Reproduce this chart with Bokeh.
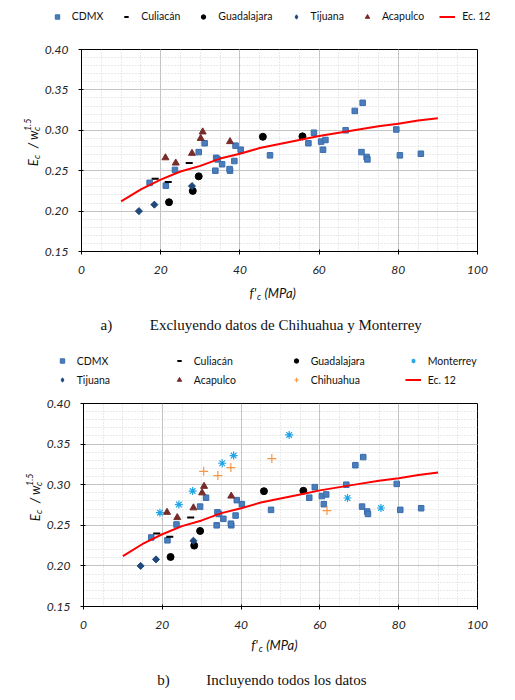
import math
from bokeh.plotting import figure
from bokeh.layouts import column, row
from bokeh.models import (Range1d, SingleIntervalTicker, Legend, LegendItem,
                          Label, PrintfTickFormatter)
from bokeh.embed import file_html
from bokeh.resources import INLINE

# ---------------- data ----------------
cdmx_x = [17.2, 21.3, 23.6, 29.6, 31.1, 33.8, 34.0, 34.4, 35.5, 37.5, 37.4, 38.6,
          38.9, 40.2, 47.6, 57.3, 58.7, 60.5, 61.0, 61.6, 66.7, 69.0, 70.7, 71.0,
          72.0, 72.2, 79.5, 80.4, 85.7]
cdmx_y = [0.235, 0.2315, 0.251, 0.273, 0.284, 0.250, 0.266, 0.264, 0.258, 0.250, 0.252, 0.262,
          0.281, 0.276, 0.269, 0.284, 0.297, 0.286, 0.276, 0.288, 0.300, 0.324, 0.273, 0.334,
          0.267, 0.264, 0.301, 0.269, 0.271]
culiacan_x = [18.6, 21.9, 27.2]
culiacan_y = [0.240, 0.236, 0.2595]
guadalajara_x = [22.1, 28.1, 29.6, 45.8, 55.8]
guadalajara_y = [0.211, 0.225, 0.243, 0.292, 0.2925]
tijuana_x = [14.5, 18.4, 27.9]
tijuana_y = [0.200, 0.208, 0.231]
acapulco_x = [21.2, 23.8, 27.9, 30.1, 30.6, 37.5]
acapulco_y = [0.266, 0.2595, 0.2715, 0.290, 0.298, 0.286]
monterrey_x = [19.4, 24.2, 27.7, 35.2, 38.1, 52.2, 67.0, 75.5]
monterrey_y = [0.2656, 0.2755, 0.2922, 0.3264, 0.3359, 0.3613, 0.2836, 0.2713]
chihuahua_x = [30.5, 34.1, 37.4, 47.8, 61.8]
chihuahua_y = [0.3165, 0.3112, 0.3211, 0.3322, 0.2681]
ec12_x = [10, 15, 20, 25, 30, 35, 40, 45, 50, 55, 60, 65, 70, 75, 80, 85, 90]
ec12_y = [0.212, 0.227, 0.239, 0.249, 0.256, 0.265, 0.271, 0.278, 0.283, 0.288,
          0.293, 0.297, 0.301, 0.305, 0.308, 0.312, 0.315]

SERIES = {
    "CDMX": (cdmx_x, cdmx_y),
    "Culiacán": (culiacan_x, culiacan_y),
    "Guadalajara": (guadalajara_x, guadalajara_y),
    "Tijuana": (tijuana_x, tijuana_y),
    "Acapulco": (acapulco_x, acapulco_y),
    "Monterrey": (monterrey_x, monterrey_y),
    "Chihuahua": (chihuahua_x, chihuahua_y),
    "Ec. 12": (ec12_x, ec12_y),
}

x_ticks_interval = 20
y_ticks_interval = 0.05
caption_a = ("a)", "Excluyendo datos de Chihuahua y Monterrey")
caption_b = ("b)", "Incluyendo todos los datos")

FONT = "Lato"
SERIF = "Liberation Serif"
W = 507

STYLES = {
    "CDMX": dict(marker="square", size=5.5, fill_color="#4a7ebb", line_color="#3a6cae"),
    "Culiacán": dict(marker="dash", size=7, line_color="black", line_width=2),
    "Guadalajara": dict(marker="circle", size=7, fill_color="black", line_color="black"),
    "Tijuana": dict(marker="square", size=5, angle=math.pi / 4,
                    fill_color="#1f497d", line_color="#1f497d"),
    "Acapulco": dict(marker="triangle", size=7, fill_color="#772c2a", line_color="#772c2a"),
    "Monterrey": dict(marker="asterisk", size=8, line_color="#22a5e6", line_width=1.2),
    "Chihuahua": dict(marker="cross", size=9, line_color="#f79646", line_width=1.2),
}
# the legend does not rotate markers, so its Tijuana proxy uses a diamond
LEGEND_STYLES = dict(STYLES)
LEGEND_STYLES["Tijuana"] = dict(marker="diamond", size=7, fill_color="#1f497d",
                                line_color="#1f497d")
LINE_STYLE = dict(line_color="#ff0000", line_width=2)


def blank(w, h, x0=0):
    f = figure(width=w, height=h, x_range=Range1d(x0, x0 + w), y_range=Range1d(0, h),
               min_border=0, x_axis_type=None, y_axis_type=None,
               output_backend="svg", toolbar_location=None)
    f.outline_line_color = None
    f.background_fill_color = "white"
    f.border_fill_color = "white"
    return f


def lab(f, x, y, text, size, font=FONT, style="italic", angle=0.0):
    f.add_layout(Label(x=x, y=y, text=text, text_font=font, text_font_style=style,
                       text_font_size=size, text_align="left", text_baseline="middle",
                       angle=angle, text_color="#111111"))


def legend_strip(h, names, ncols, loc, spacing, label_width):
    # legend proxies: the series are plotted outside this strip's visible range
    f = blank(W, h, x0=-1000)
    items = []
    for n in names:
        xs, ys = SERIES[n]
        if n == "Ec. 12":
            r = f.line(xs, ys, **LINE_STYLE)
        else:
            r = f.scatter(xs, ys, **LEGEND_STYLES[n])
        items.append(LegendItem(label=n, renderers=[r]))
    leg = Legend(items=items, orientation="horizontal", location=loc,
                 spacing=spacing, label_width=label_width)
    if ncols:
        leg.ncols = ncols
    leg.padding = 0
    leg.margin = 0
    leg.border_line_color = None
    leg.background_fill_alpha = 0
    leg.glyph_width = 16
    leg.glyph_height = 11
    leg.label_height = 13
    leg.label_standoff = 7
    leg.label_text_font = FONT
    leg.label_text_font_size = "10.5px"
    leg.label_text_color = "#111111"
    f.add_layout(leg)
    return f


def chart(full, fw, fh, bl, bb):
    p = figure(frame_width=fw, frame_height=fh, min_border_left=bl, min_border_top=8,
               min_border_bottom=bb, min_border_right=30,
               x_range=Range1d(0, 100), y_range=Range1d(0.15, 0.40),
               output_backend="svg", toolbar_location=None)
    p.background_fill_color = "white"
    p.border_fill_color = "white"
    p.outline_line_color = "black"
    p.outline_line_width = 1
    p.xaxis.ticker = SingleIntervalTicker(interval=x_ticks_interval, num_minor_ticks=4)
    p.yaxis.ticker = SingleIntervalTicker(interval=y_ticks_interval, num_minor_ticks=5)
    p.yaxis.formatter = PrintfTickFormatter(format="%.2f")
    for ax in (p.xaxis, p.yaxis):
        ax.axis_line_color = "black"
        ax.major_tick_line_color = "black"
        ax.major_tick_in = 2
        ax.major_tick_out = 3
        ax.minor_tick_line_color = None
        ax.major_label_text_font = FONT
        ax.major_label_text_font_style = "italic"
        ax.major_label_text_font_size = "12px"
        ax.major_label_text_color = "#222222"
    p.xaxis.major_label_standoff = 10
    p.yaxis.major_label_standoff = 9
    for g in (p.xgrid, p.ygrid):
        g.grid_line_color = "#c4c4c4"
        g.minor_grid_line_color = "#d4d4d4"
        g.minor_grid_line_dash = "1 2"

    names = ["CDMX", "Culiacán", "Guadalajara", "Tijuana", "Acapulco"]
    if full:
        names += ["Monterrey", "Chihuahua"]
    for n in names:
        xs, ys = SERIES[n]
        p.scatter(xs, ys, **STYLES[n])
    p.line(ec12_x, ec12_y, **LINE_STYLE)
    return p


def ylabel_strip(w, h, xc, y0):
    f = blank(w, h)
    a = math.pi / 2
    lab(f, xc, y0, "E", "13px", angle=a)
    lab(f, xc + 4, y0 + 8.5, "c", "9px", angle=a)
    lab(f, xc, y0 + 21, "/", "13px", angle=a)
    lab(f, xc, y0 + 30.5, "w", "13px", angle=a)
    lab(f, xc + 4, y0 + 41, "c", "9px", angle=a)
    lab(f, xc - 5, y0 + 41, "1.5", "9px", angle=a)
    return f


def bottom_strip(h, xl_x, xl_y, caption, cap_x, cap_y):
    f = blank(W, h)
    lab(f, xl_x, xl_y, "f'", "13px")
    lab(f, xl_x + 7.5, xl_y - 3.5, "c", "9px")
    lab(f, xl_x + 15, xl_y, "(MPa)", "13px")
    lab(f, cap_x[0], cap_y, caption[0], "15px", font=SERIF, style="normal")
    lab(f, cap_x[1], cap_y, caption[1], "15px", font=SERIF, style="normal")
    return f


# ----- chart a -----
t1 = legend_strip(41, ["CDMX", "Culiacán", "Guadalajara", "Tijuana", "Acapulco", "Ec. 12"],
                  None, (48.7, 18.5), 15, 20)
l1 = ylabel_strip(41, 234, 32, 98)
p1 = chart(False, 396, 202, 40, 24)
b1 = bottom_strip(73, 249, 56.3, caption_a, (100, 149.3), 25)

# ----- chart b -----
t2 = legend_strip(46, ["CDMX", "Culiacán", "Guadalajara", "Monterrey",
                       "Tijuana", "Acapulco", "Chihuahua", "Ec. 12"],
                  4, (53.7, 8.8), 6, 88)
l2 = ylabel_strip(43, 235, 34, 98)
p2 = chart(True, 394, 203, 40, 24)
b2 = bottom_strip(63, 250.7, 49.3, caption_b, (156.7, 205.7), 15)

layout = column(t1, row(l1, p1, spacing=0), b1, t2, row(l2, p2, spacing=0), b2, spacing=0)
open("out.html", "w").write(file_html(layout, INLINE))
